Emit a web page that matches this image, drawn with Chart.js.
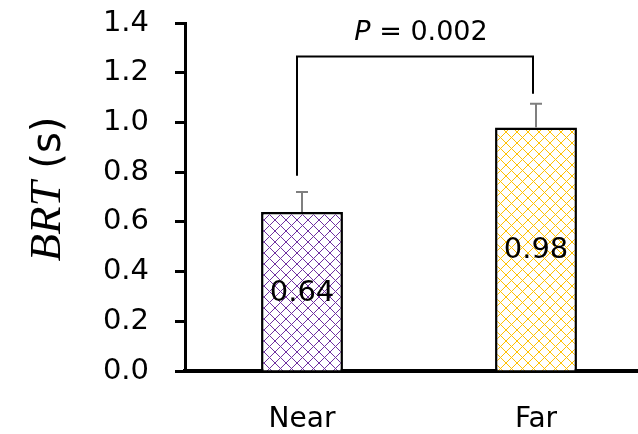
<!DOCTYPE html>
<html>
<head>
<meta charset="utf-8">
<script src="https://cdn.jsdelivr.net/npm/chart.js@4.4.0/dist/chart.umd.min.js"></script>
<style>
html, body { margin: 0; padding: 0; background: #fff; overflow: hidden; }
canvas { display: block; }
</style>
</head>
<body>
<canvas id="brtChart" width="653" height="434"></canvas>
<script>
// values
const categories = ['Near', 'Far'];
const brtMeans = [0.64, 0.98];
const brtErrors = [0.08, 0.095];
const yTicks = [0.0, 0.2, 0.4, 0.6, 0.8, 1.0, 1.2, 1.4];
const barColors = ['#7030A0', '#FFC000'];
const pValue = '0.002';
const bracketTop = 1.265;
const bracketLegs = [0.785, 1.115];

const FONT = '"DejaVu Sans", sans-serif';

function makePattern(ctx, color) {
    let n = 11;
    let tile = document.createElement('canvas');
    tile.width = n;
    tile.height = n;
    let c = tile.getContext('2d');
    c.fillStyle = '#fff';
    c.fillRect(0, 0, n, n);
    c.fillStyle = color;
    for (let i = 0; i < n; i++) {
        c.fillRect(i, i, 1, 1);
        c.fillRect(n - 1 - i, i, 1, 1);
    }
    return ctx.createPattern(tile, 'repeat');
}

// error bars, value labels, bracket, P text, y title
const extras = {
    id: 'extras',
    afterDatasetsDraw(chart) {
        let ctx = chart.ctx;
        let y = chart.scales.y;
        let meta = chart.getDatasetMeta(0);
        ctx.save();

        ctx.strokeStyle = '#7f7f7f';
        ctx.lineWidth = 2;
        meta.data.forEach((bar, i) => {
            let top = y.getPixelForValue(brtMeans[i] + brtErrors[i]);
            ctx.beginPath();
            ctx.moveTo(bar.x, bar.y);
            ctx.lineTo(bar.x, top);
            ctx.moveTo(bar.x - 6, top);
            ctx.lineTo(bar.x + 6, top);
            ctx.stroke();
        });

        ctx.fillStyle = '#000';
        ctx.font = '29px ' + FONT;
        ctx.textAlign = 'center';
        ctx.textBaseline = 'middle';
        meta.data.forEach((bar, i) => {
            ctx.fillText(brtMeans[i].toFixed(2), bar.x, (bar.y + bar.base) / 2 + 2);
        });

        // significance bracket
        let xl = meta.data[0].x - 5;
        let xr = meta.data[1].x - 3;
        let yt = y.getPixelForValue(bracketTop);
        ctx.strokeStyle = '#000';
        ctx.lineWidth = 2;
        ctx.beginPath();
        ctx.moveTo(xl, y.getPixelForValue(bracketLegs[0]));
        ctx.lineTo(xl, yt);
        ctx.lineTo(xr, yt);
        ctx.lineTo(xr, y.getPixelForValue(bracketLegs[1]));
        ctx.stroke();

        let italic = 'italic 27px ' + FONT;
        let normal = '27px ' + FONT;
        let rest = ' = ' + pValue;
        ctx.font = italic;
        let wP = ctx.measureText('P').width;
        ctx.font = normal;
        let wR = ctx.measureText(rest).width;
        let startX = (xl + xr) / 2 + 6 - (wP + wR) / 2;
        ctx.textAlign = 'left';
        ctx.textBaseline = 'alphabetic';
        ctx.font = italic;
        ctx.fillText('P', startX, yt - 17);
        ctx.font = normal;
        ctx.fillText(rest, startX + wP, yt - 17);

        // y axis title: italic BRT + (s)
        let serif = 'italic 45px "Liberation Serif", serif';
        let sans = '40px ' + FONT;
        ctx.font = serif;
        let wB = ctx.measureText('BRT').width;
        ctx.font = sans;
        let wS = ctx.measureText(' (s)').width;
        ctx.translate(60, (y.top + y.bottom) / 2 - 8);
        ctx.rotate(-Math.PI / 2);
        let sx = -(wB + wS) / 2;
        ctx.font = serif;
        ctx.fillText('BRT', sx, 0);
        ctx.font = sans;
        ctx.fillText(' (s)', sx + wB, 0);
        ctx.restore();
    }
};

let ctx = document.getElementById('brtChart').getContext('2d');

new Chart(ctx, {
    type: 'bar',
    data: {
        labels: categories,
        datasets: [{
            data: brtMeans,
            backgroundColor: barColors.map(c => makePattern(ctx, c)),
            borderColor: '#000',
            borderWidth: 2.5,
            barPercentage: 0.35,
            categoryPercentage: 1
        }]
    },
    options: {
        responsive: false,
        animation: false,
        layout: { padding: { top: 23, right: 0, bottom: 0, left: 0 } },
        plugins: {
            legend: { display: false },
            tooltip: { enabled: false }
        },
        scales: {
            x: {
                grid: { display: false, drawTicks: false },
                border: { color: '#000', width: 4 },
                ticks: {
                    color: '#000',
                    font: { family: FONT, size: 28 },
                    padding: 32
                },
                afterFit: s => { s.height = 63; }
            },
            y: {
                min: yTicks[0],
                max: yTicks[yTicks.length - 1],
                grid: {
                    drawOnChartArea: false,
                    drawTicks: true,
                    tickLength: 10,
                    tickWidth: 3,
                    tickColor: '#000'
                },
                border: { color: '#000', width: 3 },
                ticks: {
                    stepSize: yTicks[1] - yTicks[0],
                    color: '#000',
                    font: { family: FONT, size: 29 },
                    padding: 26,
                    callback: v => v.toFixed(1)
                },
                afterFit: s => {
                    s.width = 185;
                    s.paddingTop = 0;
                    s.paddingBottom = 0;
                }
            }
        }
    },
    plugins: [extras]
});
</script>
</body>
</html>
